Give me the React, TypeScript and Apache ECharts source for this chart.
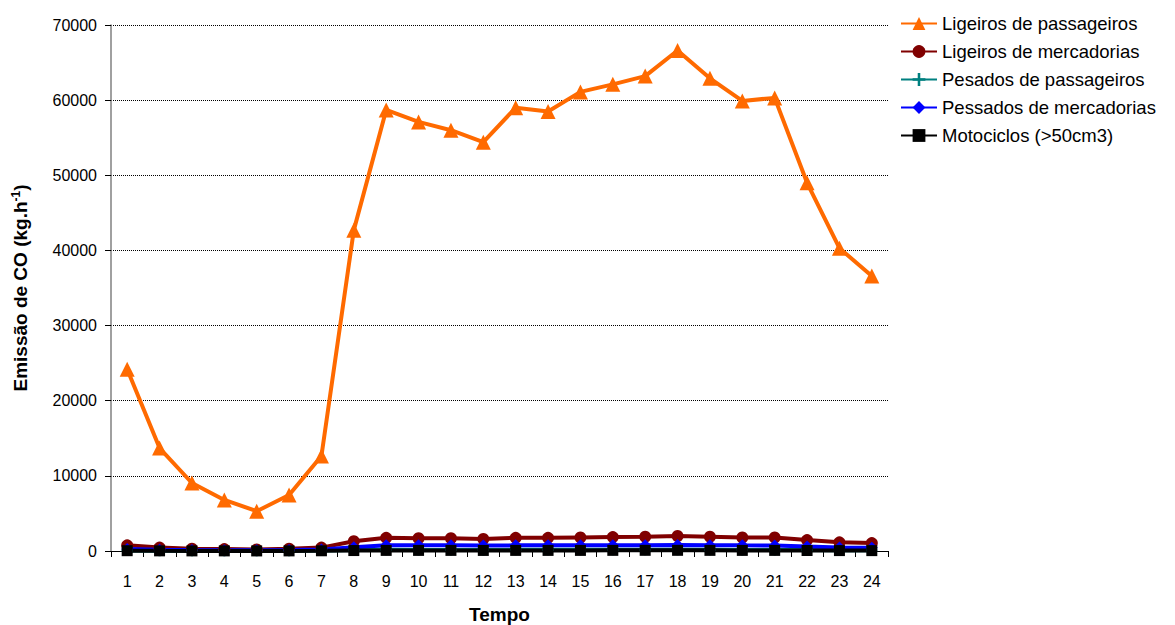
import React, { useEffect, useRef } from "react";
import * as echarts from "echarts";

const hours = ["1","2","3","4","5","6","7","8","9","10","11","12","13","14","15","16","17","18","19","20","21","22","23","24"];

const ligeirosPassageiros = [24200, 13700, 9050, 6800, 5300, 7450, 12650, 42700, 58700, 57100, 56000, 54400, 59000, 58500, 61100, 62100, 63200, 66600, 62900, 59900, 60300, 49000, 40300, 36600];
const ligeirosMercadorias = [750, 450, 300, 250, 200, 300, 450, 1300, 1750, 1700, 1700, 1600, 1750, 1750, 1800, 1850, 1900, 2000, 1900, 1800, 1800, 1450, 1150, 1050];
const pesadosPassageiros = [60, 40, 30, 30, 30, 40, 60, 120, 150, 140, 140, 140, 150, 150, 150, 150, 160, 160, 150, 140, 140, 120, 100, 90];
const pesadosMercadorias = [250, 150, 120, 110, 100, 130, 200, 500, 750, 750, 750, 720, 750, 750, 760, 770, 780, 800, 780, 750, 740, 600, 480, 420];
const motociclos = [40, 20, 15, 15, 10, 15, 30, 60, 80, 80, 80, 75, 80, 80, 80, 85, 90, 90, 85, 80, 80, 65, 55, 50];

const yTicks = [0, 10000, 20000, 30000, 40000, 50000, 60000, 70000];

const crossPath = "path://M4,0 L6,0 L6,4 L10,4 L10,6 L6,6 L6,10 L4,10 L4,6 L0,6 L0,4 L4,4 Z";

export default function App() {
  const ref = useRef<HTMLDivElement>(null);

  useEffect(() => {
    document.body.style.margin = "0";
    if (!ref.current) return;
    const chart = echarts.init(ref.current, undefined, { renderer: "svg" });
    const font = "Liberation Sans, Arial, sans-serif";
    const mk = (name: string, data: number[], color: string, symbol: string, symbolSize: number) => ({
      name,
      type: "line",
      data,
      symbol,
      symbolSize,
      showAllSymbol: true,
      lineStyle: { color, width: 4 },
      itemStyle: { color },
    });
    chart.setOption({
      animation: false,
      backgroundColor: "#ffffff",
      textStyle: { fontFamily: font },
      grid: { left: 111, right: 287, top: 25, bottom: 74, outerBoundsMode: "none", containLabel: false },
      legend: {
        orient: "vertical",
        left: 895,
        top: 9,
        itemWidth: 36,
        itemHeight: 16,
        itemGap: 9,
        textStyle: { fontSize: 18.5, color: "#000", fontFamily: font, lineHeight: 18 },
        data: ["Ligeiros de passageiros", "Ligeiros de mercadorias", "Pesados de passageiros", "Pessados de mercadorias", "Motociclos (>50cm3)"],
      },
      xAxis: {
        type: "category",
        data: hours,
        boundaryGap: true,
        name: "Tempo",
        nameLocation: "middle",
        nameGap: 54,
        nameTextStyle: { fontSize: 19, fontWeight: "bold", color: "#000", fontFamily: font },
        axisLine: { lineStyle: { color: "#000", width: 1 } },
        axisTick: { show: true, length: 6, inside: false, alignWithLabel: false, lineStyle: { color: "#000" } },
        axisLabel: { fontSize: 16, color: "#000", margin: 22, interval: 0, fontFamily: font },
        splitLine: { show: false },
      },
      yAxis: {
        type: "value",
        min: yTicks[0],
        max: yTicks[yTicks.length - 1],
        interval: yTicks[1] - yTicks[0],
        name: "Emissão de CO (kg.h{sup|-1})",
        nameLocation: "middle",
        nameGap: 80,
        nameRotate: 90,
        nameTextStyle: {
          fontSize: 19,
          fontWeight: "bold",
          color: "#000",
          fontFamily: font,
          rich: {
            sup: { fontSize: 12, fontWeight: "bold", color: "#000", verticalAlign: "top", padding: [0, 0, 9, 0], fontFamily: font },
          },
        },
        axisLine: { show: true, lineStyle: { color: "#808080", width: 1.5 } },
        axisTick: { show: true, length: 6, lineStyle: { color: "#000" } },
        axisLabel: { fontSize: 16, color: "#000", margin: 14, fontFamily: font, formatter: (v: number) => String(v) },
        splitLine: { show: true, lineStyle: { color: "#000", type: [1, 1], width: 1 } },
      },
      series: [
        mk("Ligeiros de passageiros", ligeirosPassageiros, "#ff6a00", "triangle", 15),
        mk("Ligeiros de mercadorias", ligeirosMercadorias, "#800000", "circle", 12),
        mk("Pesados de passageiros", pesadosPassageiros, "#008080", crossPath, 11),
        mk("Pessados de mercadorias", pesadosMercadorias, "#0000ff", "diamond", 12),
        mk("Motociclos (>50cm3)", motociclos, "#000000", "rect", 11),
      ],
    });
    return () => chart.dispose();
  }, []);

  return <div ref={ref} style={{ position: "fixed", left: 0, top: 0, width: 1175, height: 625 }} />;
}
